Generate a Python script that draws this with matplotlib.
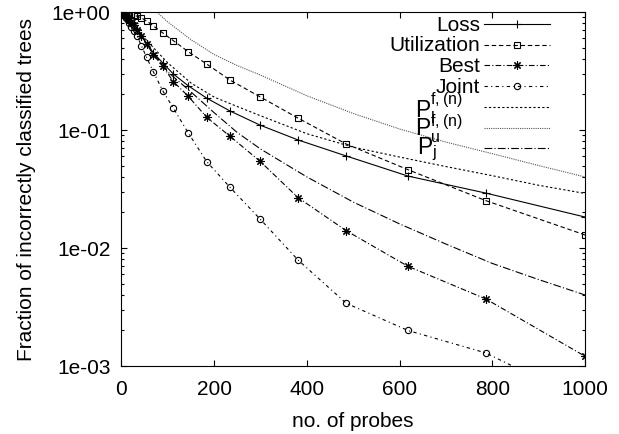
import numpy as np
import matplotlib
matplotlib.use("Agg")
import matplotlib.pyplot as plt
from matplotlib.ticker import FixedLocator, FixedFormatter, LogLocator, NullFormatter

plt.rcParams["font.family"] = ["Liberation Sans", "DejaVu Sans"]
plt.rcParams["mathtext.fontset"] = "custom"
plt.rcParams["mathtext.rm"] = "Liberation Sans"
plt.rcParams["mathtext.it"] = "Liberation Sans"

probes = [1, 2, 3, 4, 5, 7, 8, 10, 13, 16, 21, 26, 34, 43, 54, 69, 89, 112,
          144, 184, 234, 299, 381, 485, 618, 786, 1000]
loss = [1.0, 0.99, 0.985, 0.98, 0.97, 0.96, 0.95, 0.94, 0.92, 0.89, 0.85, 0.80,
        0.72, 0.63, 0.54, 0.45, 0.37, 0.298, 0.237, 0.186, 0.145, 0.110, 0.0823,
        0.0602, 0.0407, 0.0292, 0.0183]
utilization = [1.0, 1.0, 1.0, 1.0, 0.995, 0.99, 0.99, 0.985, 0.98, 0.97, 0.96,
               0.94, 0.92, 0.89, 0.84, 0.76, 0.665, 0.571, 0.461, 0.362, 0.265,
               0.191, 0.126, 0.076, 0.0461, 0.0252, 0.0129]
best = [1.0, 0.99, 0.98, 0.97, 0.96, 0.95, 0.94, 0.92, 0.89, 0.86, 0.82, 0.77,
        0.71, 0.63, 0.54, 0.432, 0.347, 0.257, 0.193, 0.128, 0.0885, 0.0543,
        0.0267, 0.0140, 0.0070, 0.0037, 0.00121]
joint = [1.0, 0.99, 0.98, 0.97, 0.95, 0.93, 0.92, 0.89, 0.85, 0.80, 0.74, 0.69,
         0.62, 0.518, 0.413, 0.31, 0.215, 0.153, 0.0944, 0.0539, 0.0327, 0.0176,
         0.0079, 0.0034, 0.0020, 0.00129, 0.0005]

# theoretical curves
theory_x = [0, 25, 50, 75, 100, 150, 200, 250, 300, 400, 500, 600, 700, 800, 900, 1000]
p_lf = [1.0, 0.78, 0.6, 0.47, 0.37, 0.25, 0.19, 0.158, 0.132, 0.093, 0.0716,
        0.059, 0.049, 0.041, 0.034, 0.029]
p_j = [1.0, 0.76, 0.57, 0.42, 0.31, 0.21, 0.14, 0.095, 0.069, 0.04, 0.0245,
       0.016, 0.0108, 0.0074, 0.0054, 0.0040]
pu_x = [60, 76, 100, 150, 200, 250, 300, 400, 500, 600, 700, 800, 900, 1000]
p_uf = [1.08, 1.0, 0.822, 0.582, 0.436, 0.351, 0.292, 0.195, 0.138, 0.102,
        0.079, 0.063, 0.050, 0.040]

ytick_vals = [1e-3, 1e-2, 1e-1, 1e0]
ytick_labels = ["1e-03", "1e-02", "1e-01", "1e+00"]
xtick_vals = [0, 200, 400, 600, 800, 1000]

fig = plt.figure(figsize=(6.19, 4.35), dpi=100)
ax = fig.add_axes([121.5 / 619, 1 - 367 / 435, (585 - 121.5) / 619, (367 - 13) / 435])

lw = 0.8
series = [
    ("Loss", probes, loss, dict(ls="-", marker="+", ms=6, mew=0.8)),
    ("Utilization", probes, utilization,
     dict(ls=(0, (4, 2.5)), marker="s", ms=5, mfc="none", mew=0.8)),
    ("Best", probes, best, dict(ls=(0, (5, 2, 1, 2)), marker=(8, 2, 0), ms=6, mew=0.8)),
    ("Joint", probes, joint,
     dict(ls=(0, (3, 3, 1, 3)), marker="o", ms=4.5, mfc="none", mew=0.8)),
    (r"$\mathregular{P_l^{f,(n)}}$", theory_x, p_lf, dict(ls=(0, (2, 2)))),
    (r"$\mathregular{P_u^{f,(n)}}$", pu_x, p_uf, dict(ls=(0, (1, 1)), color="#555555")),
    (r"$\mathregular{P_j}$", theory_x, p_j, dict(ls=(0, (7, 2, 1, 2)))),
]
# gnuplot-like key: right edge and size of each label
label_right = [0.773, 0.773, 0.773, 0.773, 0.735, 0.735, 0.68]
label_size = [15, 15, 15, 15, 16.5, 16.5, 16.5]

for i, (label, xs, ys, style) in enumerate(series):
    kw = dict(color="black", lw=lw)
    kw.update(style)
    ax.plot(xs, ys, **kw)
    yrow = 0.966 - i * 0.0585
    ax.plot([0.782, 0.8535, 0.925], [yrow] * 3, transform=ax.transAxes,
            clip_on=False, markevery=[1], **kw)
    ax.text(label_right[i], yrow, label, transform=ax.transAxes, ha="right",
            va="center", fontsize=label_size[i])

ax.set_yscale("log")
ax.set_xlim(0, 1000)
ax.set_ylim(1e-3, 1)
ax.yaxis.set_major_locator(FixedLocator(ytick_vals))
ax.yaxis.set_major_formatter(FixedFormatter(ytick_labels))
ax.yaxis.set_minor_locator(LogLocator(base=10, subs=np.arange(2, 10)))
ax.yaxis.set_minor_formatter(NullFormatter())
ax.set_xticks(xtick_vals)
ax.tick_params(which="both", direction="in", top=True, right=True, labelsize=15)
ax.tick_params(which="major", length=4.5, width=0.8)
ax.tick_params(which="minor", length=2.5, width=0.8)
ax.tick_params(axis="y", pad=8)
ax.tick_params(axis="x", pad=9.5)
for s in ax.spines.values():
    s.set_linewidth(0.8)

ax.set_xlabel("no. of probes", fontsize=15, labelpad=9)
ax.set_ylabel("Fraction of incorrectly classified trees", fontsize=15, labelpad=11)

fig.savefig("out.png", dpi=100)
